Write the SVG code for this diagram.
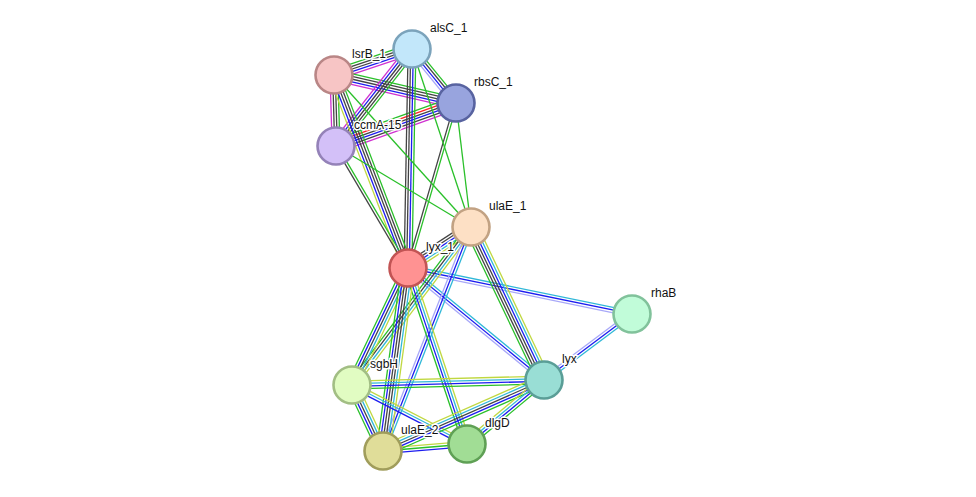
<svg xmlns="http://www.w3.org/2000/svg" width="976" height="497" viewBox="0 0 976 497">
<style>
line{stroke-width:1.3;fill:none}
.nb{stroke:#2ac02a}.fus{stroke:#ff2020}.coo{stroke:#1c1cf0}.coe{stroke:#444}.exp{stroke:#d030d0}.db{stroke:#30b8d8}.tm{stroke:#c0d840}.hom{stroke:#a8a8f8}
circle{stroke-width:2.6}
text{font-family:"Liberation Sans",Arial,sans-serif;font-size:12px;fill:#111;stroke:#fff;stroke-width:3;paint-order:stroke;stroke-linejoin:round}
</style>
<rect width="976" height="497" fill="#fff"/>
<g id="edges">
<g transform="translate(334 75) rotate(-18.43)"><line x2="82.2" y1="-5.2" y2="-5.2" class="nb"/><line x2="82.2" y1="-2.6" y2="-2.6" class="coe"/><line x2="82.2" class="coe"/><line x2="82.2" y1="2.6" y2="2.6" class="coo"/><line x2="82.2" y1="5.2" y2="5.2" class="exp"/></g>
<g transform="translate(334 75) rotate(12.93)"><line x2="125.2" y1="-5.2" y2="-5.2" class="nb"/><line x2="125.2" y1="-2.6" y2="-2.6" class="coe"/><line x2="125.2" class="coe"/><line x2="125.2" y1="2.6" y2="2.6" class="coo"/><line x2="125.2" y1="5.2" y2="5.2" class="exp"/></g>
<g transform="translate(412 49) rotate(50.83)"><line x2="69.7" y1="-3.9" y2="-3.9" class="nb"/><line x2="69.7" y1="-1.3" y2="-1.3" class="coe"/><line x2="69.7" y1="1.3" y2="1.3" class="coo"/><line x2="69.7" y1="3.9" y2="3.9" class="hom"/></g>
<g transform="translate(412 49) rotate(128.08)"><line x2="123.2" y1="-5.2" y2="-5.2" class="nb"/><line x2="123.2" y1="-2.6" y2="-2.6" class="coe"/><line x2="123.2" class="coe"/><line x2="123.2" y1="2.6" y2="2.6" class="coo"/><line x2="123.2" y1="5.2" y2="5.2" class="exp"/></g>
<g transform="translate(334 75) rotate(88.39)"><line x2="71" y1="-3.9" y2="-3.9" class="nb"/><line x2="71" y1="-1.3" y2="-1.3" class="coe"/><line x2="71" y1="1.3" y2="1.3" class="coe"/><line x2="71" y1="3.9" y2="3.9" class="exp"/></g>
<g transform="translate(336 146) rotate(-19.71)"><line x2="127.5" y1="-6.5" y2="-6.5" class="nb"/><line x2="127.5" y1="-3.9" y2="-3.9" class="fus"/><line x2="127.5" y1="-1.3" y2="-1.3" class="coe"/><line x2="127.5" y1="1.3" y2="1.3" class="coo"/><line x2="127.5" y1="3.9" y2="3.9" class="coe"/><line x2="127.5" y1="6.5" y2="6.5" class="exp"/></g>
<g transform="translate(412 49) rotate(91.05)"><line x2="219" y1="-3.9" y2="-3.9" class="nb"/><line x2="219" y1="-1.3" y2="-1.3" class="coo"/><line x2="219" y1="1.3" y2="1.3" class="coe"/><line x2="219" y1="3.9" y2="3.9" class="coe"/></g>
<g transform="translate(334 75) rotate(69.02)"><line x2="206.7" y1="-5.2" y2="-5.2" class="nb"/><line x2="206.7" y1="-2.6" y2="-2.6" class="coe"/><line x2="206.7" class="coe"/><line x2="206.7" y1="2.6" y2="2.6" class="coo"/><line x2="206.7" y1="5.2" y2="5.2" class="tm"/></g>
<g transform="translate(336 146) rotate(59.45)"><line x2="141.7" y1="-1.3" y2="-1.3" class="nb"/><line x2="141.7" y1="1.3" y2="1.3" class="coe"/></g>
<g transform="translate(456 103) rotate(106.22)"><line x2="171.8" y1="-1.3" y2="-1.3" class="nb"/><line x2="171.8" y1="1.3" y2="1.3" class="coe"/></g>
<line x1="456" y1="103" x2="471" y2="227" class="nb"/>
<line x1="412" y1="49" x2="471" y2="227" class="nb"/>
<line x1="334" y1="75" x2="471" y2="227" class="nb"/>
<line x1="336" y1="146" x2="471" y2="227" class="nb"/>
<g transform="translate(471 227) rotate(146.94)"><line x2="75.2" y1="-5.2" y2="-5.2" class="tm"/><line x2="75.2" y1="-2.6" y2="-2.6" class="db"/><line x2="75.2" class="coo"/><line x2="75.2" y1="2.6" y2="2.6" class="coe"/><line x2="75.2" y1="5.2" y2="5.2" class="coe"/></g>
<g transform="translate(408 268) rotate(11.6)"><line x2="228.7" y1="-2.6" y2="-2.6" class="db"/><line x2="228.7" class="coo"/><line x2="228.7" y1="2.6" y2="2.6" class="hom"/></g>
<g transform="translate(408 268) rotate(39.47)"><line x2="176.2" y1="-2.6" y2="-2.6" class="db"/><line x2="176.2" class="coo"/><line x2="176.2" y1="2.6" y2="2.6" class="hom"/></g>
<g transform="translate(632 314) rotate(143.13)"><line x2="110" y1="-2.6" y2="-2.6" class="db"/><line x2="110" class="coo"/><line x2="110" y1="2.6" y2="2.6" class="hom"/></g>
<g transform="translate(471 227) rotate(64.5)"><line x2="169.5" y1="-6.5" y2="-6.5" class="tm"/><line x2="169.5" y1="-3.9" y2="-3.9" class="db"/><line x2="169.5" y1="-1.3" y2="-1.3" class="coo"/><line x2="169.5" y1="1.3" y2="1.3" class="coe"/><line x2="169.5" y1="3.9" y2="3.9" class="coe"/><line x2="169.5" y1="6.5" y2="6.5" class="nb"/></g>
<g transform="translate(471 227) rotate(127)"><line x2="197.8" y1="-3.9" y2="-3.9" class="tm"/><line x2="197.8" y1="-1.3" y2="-1.3" class="db"/><line x2="197.8" y1="1.3" y2="1.3" class="coe"/><line x2="197.8" y1="3.9" y2="3.9" class="nb"/></g>
<g transform="translate(471 227) rotate(111.45)"><line x2="240.7" y1="-2.6" y2="-2.6" class="db"/><line x2="240.7" class="coo"/><line x2="240.7" y1="2.6" y2="2.6" class="hom"/></g>
<g transform="translate(408 268) rotate(71.47)"><line x2="185.6" y1="-3.9" y2="-3.9" class="tm"/><line x2="185.6" y1="-1.3" y2="-1.3" class="db"/><line x2="185.6" y1="1.3" y2="1.3" class="coo"/><line x2="185.6" y1="3.9" y2="3.9" class="nb"/></g>
<g transform="translate(408 268) rotate(115.57)"><line x2="129.7" y1="-5.2" y2="-5.2" class="tm"/><line x2="129.7" y1="-2.6" y2="-2.6" class="db"/><line x2="129.7" class="coe"/><line x2="129.7" y1="2.6" y2="2.6" class="coo"/><line x2="129.7" y1="5.2" y2="5.2" class="nb"/></g>
<g transform="translate(408 268) rotate(97.78)"><line x2="184.7" y1="-6.5" y2="-6.5" class="tm"/><line x2="184.7" y1="-3.9" y2="-3.9" class="db"/><line x2="184.7" y1="-1.3" y2="-1.3" class="coe"/><line x2="184.7" y1="1.3" y2="1.3" class="coe"/><line x2="184.7" y1="3.9" y2="3.9" class="coo"/><line x2="184.7" y1="6.5" y2="6.5" class="nb"/></g>
<g transform="translate(352 385) rotate(-1.49)"><line x2="192.1" y1="-3.9" y2="-3.9" class="tm"/><line x2="192.1" y1="-1.3" y2="-1.3" class="db"/><line x2="192.1" y1="1.3" y2="1.3" class="coo"/><line x2="192.1" y1="3.9" y2="3.9" class="nb"/></g>
<g transform="translate(352 385) rotate(64.84)"><line x2="72.9" y1="-5.2" y2="-5.2" class="tm"/><line x2="72.9" y1="-2.6" y2="-2.6" class="db"/><line x2="72.9" class="coe"/><line x2="72.9" y1="2.6" y2="2.6" class="coo"/><line x2="72.9" y1="5.2" y2="5.2" class="nb"/></g>
<g transform="translate(352 385) rotate(27.16)"><line x2="129.3" y1="-2.6" y2="-2.6" class="tm"/><line x2="129.3" class="db"/><line x2="129.3" y1="2.6" y2="2.6" class="coo"/></g>
<g transform="translate(383 451) rotate(-4.76)"><line x2="84.3" y1="-2.6" y2="-2.6" class="tm"/><line x2="84.3" class="nb"/><line x2="84.3" y1="2.6" y2="2.6" class="coo"/></g>
<g transform="translate(383 451) rotate(-23.8)"><line x2="176" y1="-5.2" y2="-5.2" class="tm"/><line x2="176" y1="-2.6" y2="-2.6" class="db"/><line x2="176" class="coe"/><line x2="176" y1="2.6" y2="2.6" class="coo"/><line x2="176" y1="5.2" y2="5.2" class="nb"/></g>
<g transform="translate(467 444) rotate(-39.73)"><line x2="100.1" y1="-3.9" y2="-3.9" class="tm"/><line x2="100.1" y1="-1.3" y2="-1.3" class="db"/><line x2="100.1" y1="1.3" y2="1.3" class="coo"/><line x2="100.1" y1="3.9" y2="3.9" class="nb"/></g>
</g>
<g id="alsC_1"><circle cx="412" cy="49" r="18.5" fill="#c2e7fa" stroke="#7ba3bb"/><text x="430" y="32">alsC_1</text></g>
<g id="lsrB_1"><circle cx="334" cy="75" r="18.5" fill="#f7c5c5" stroke="#b98686"/><text x="352" y="58">lsrB_1</text></g>
<g id="rbsC_1"><circle cx="456" cy="103" r="18.5" fill="#98a4de" stroke="#5863a0"/><text x="474" y="86">rbsC_1</text></g>
<g id="ccmA-15"><circle cx="336" cy="146" r="18.5" fill="#d3c0f8" stroke="#9482b8"/><text x="354" y="129">ccmA-15</text></g>
<g id="ulaE_1"><circle cx="471" cy="227" r="18.5" fill="#fde0c5" stroke="#c2a283"/><text x="489" y="210">ulaE_1</text></g>
<g id="lyx_1"><circle cx="408" cy="268" r="18.5" fill="#ff9292" stroke="#c25454"/><text x="426" y="251">lyx_1</text></g>
<g id="rhaB"><circle cx="632" cy="314" r="18.5" fill="#c1fcd9" stroke="#81c29b"/><text x="651" y="297">rhaB</text></g>
<g id="lyx"><circle cx="544" cy="380" r="18.5" fill="#99ded5" stroke="#5a9e97"/><text x="562" y="363">lyx</text></g>
<g id="sgbH"><circle cx="352" cy="385" r="18.5" fill="#e1fcc2" stroke="#a2be84"/><text x="370" y="368">sgbH</text></g>
<g id="ulaE_2"><circle cx="383" cy="451" r="18.5" fill="#e0dd99" stroke="#a09d5b"/><text x="401" y="434">ulaE_2</text></g>
<g id="dlgD"><circle cx="467" cy="444" r="18.5" fill="#a1dd95" stroke="#5fa055"/><text x="485" y="427">dlgD</text></g>
</svg>
